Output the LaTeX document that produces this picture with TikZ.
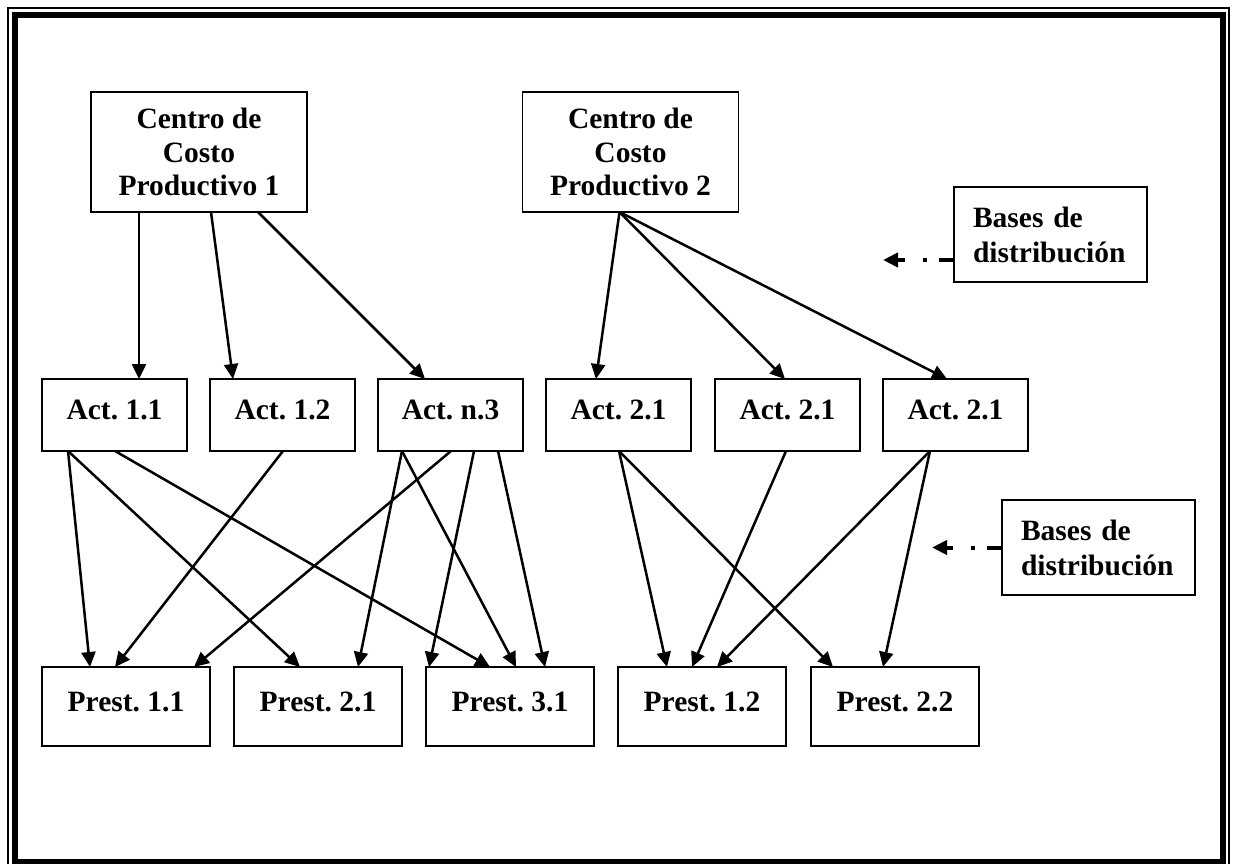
\documentclass[tikz,border=0pt]{standalone}
\usepackage{fontspec}
\setmainfont{Liberation Serif}
\usetikzlibrary{arrows.meta}
\frenchspacing
\begin{document}
\begin{tikzpicture}[x=1pt,y=-1pt,
  box/.style={draw, line width=1.8pt, inner sep=0pt, outer sep=0pt,
    font=\fontsize{29.5}{33.5}\selectfont\bfseries, align=center},
  ccbox/.style={box, minimum width=216pt, minimum height=120pt},
  actbox/.style={box, minimum width=145pt, minimum height=72pt, text depth=10pt},
  prbox/.style={box, minimum width=168pt, minimum height=79pt, text depth=10pt},
  basebox/.style={box, minimum width=193pt, minimum height=95pt, text width=155pt,
    align=left, font=\fontsize{29.5}{35}\selectfont\bfseries},
  conn/.style={line width=2.5pt, -{Triangle[length=15pt,width=14pt]}},
  dd/.style={line width=4pt, dash pattern=on 15pt off 12pt on 4pt off 18pt on 80pt,
    -{Triangle[length=15pt,width=14pt]}}
]
\clip (0,0) rectangle (1234,864);
% frame
\draw[line width=1.4pt] (8,8) rectangle (1229,869);
\draw[line width=6pt] (14.7,15.3) rectangle (1222.7,862);

% top nodes
\node[ccbox] (c1) at (199,152) {Centro de\\Costo\\Productivo 1};
\node[ccbox] (c2) at (630.5,152) {Centro de\\Costo\\Productivo 2};
\node[basebox] (b1) at (1050.5,234.5) {Bases de\\distribución};
\node[basebox] (b2) at (1098.5,547.5) {Bases de\\distribución};

% activity nodes
\node[actbox] (a11) at (114.5,415) {Act. 1.1};
\node[actbox] (a12) at (282.5,415) {Act. 1.2};
\node[actbox] (an3) at (450.5,415) {Act. n.3};
\node[actbox] (a21a) at (618.5,415) {Act. 2.1};
\node[actbox] (a21b) at (787.5,415) {Act. 2.1};
\node[actbox] (a21c) at (955.5,415) {Act. 2.1};

% prestation nodes
\node[prbox] (p11) at (126,706.5) {Prest. 1.1};
\node[prbox] (p21) at (318,706.5) {Prest. 2.1};
\node[prbox] (p31) at (510,706.5) {Prest. 3.1};
\node[prbox] (p12) at (702,706.5) {Prest. 1.2};
\node[prbox] (p22) at (895,706.5) {Prest. 2.2};

% dash-dot arrows
\coordinate (t1) at (883,260);
\coordinate (t2) at (932,547.5);
\draw[dd] ([yshift=22pt]b1.south west) -- (t1);
\draw[dd] (b2.west) -- (t2);

% centre -> activities
\draw[conn] ([xshift=48pt]c1.south west) -- ([xshift=97pt]a11.north west);
\draw[conn] ([xshift=120pt]c1.south west) -- ([xshift=23pt]a12.north west);
\draw[conn] ([xshift=167pt]c1.south west) -- ([xshift=47pt]an3.north west);
\draw[conn] ([xshift=97pt]c2.south west) -- ([xshift=50pt]a21a.north west);
\draw[conn] ([xshift=97pt]c2.south west) -- ([xshift=70pt]a21b.north west);
\draw[conn] ([xshift=97pt]c2.south west) -- ([xshift=64pt]a21c.north west);

% activities -> prestations
\draw[conn] ([xshift=26pt]a11.south west) -- ([xshift=48pt]p11.north west);
\draw[conn] ([xshift=26pt]a11.south west) -- ([xshift=66pt]p21.north west);
\draw[conn] ([xshift=73pt]a11.south west) -- ([xshift=64pt]p31.north west);
\draw[conn] ([xshift=73pt]a12.south west) -- ([xshift=73pt]p11.north west);
\draw[conn] ([xshift=73pt]an3.south west) -- ([xshift=152pt]p11.north west);
\draw[conn] ([xshift=24pt]an3.south west) -- ([xshift=124pt]p21.north west);
\draw[conn] ([xshift=24pt]an3.south west) -- ([xshift=90pt]p31.north west);
\draw[conn] ([xshift=96pt]an3.south west) -- ([xshift=3pt]p31.north west);
\draw[conn] ([xshift=120pt]an3.south west) -- ([xshift=119pt]p31.north west);
\draw[conn] ([xshift=73pt]a21a.south west) -- ([xshift=49pt]p12.north west);
\draw[conn] ([xshift=73pt]a21a.south west) -- ([xshift=22pt]p22.north west);
\draw[conn] ([xshift=71pt]a21b.south west) -- ([xshift=74pt]p12.north west);
\draw[conn] ([xshift=47pt]a21c.south west) -- ([xshift=99pt]p12.north west);
\draw[conn] ([xshift=47pt]a21c.south west) -- ([xshift=72pt]p22.north west);
\end{tikzpicture}
\end{document}
